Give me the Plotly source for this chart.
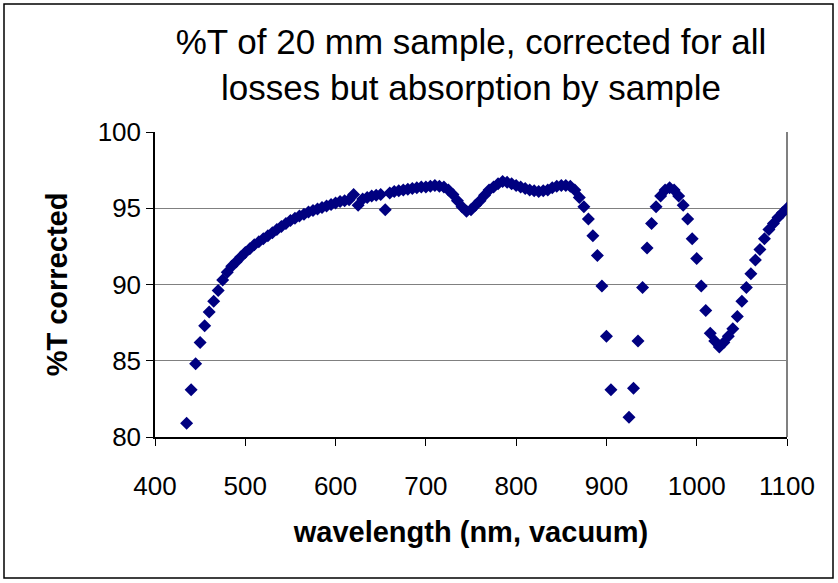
import plotly.graph_objects as go

wavelength_nm = [
    435, 440, 445, 450, 455, 460, 465, 470, 475, 480, 485, 490, 495, 500,
    505, 510, 515, 520, 525, 530, 535, 540, 545, 550, 555, 560, 565, 570,
    575, 580, 585, 590, 595, 600, 605, 610, 615, 620, 625, 630, 635, 640,
    645, 650, 655, 660, 665, 670, 675, 680, 685, 690, 695, 700, 705, 710,
    715, 720, 725, 730, 735, 740, 745, 750, 755, 760, 765, 770, 775, 780,
    785, 790, 795, 800, 805, 810, 815, 820, 825, 830, 835, 840, 845, 850,
    855, 860, 865, 870, 875, 880, 885, 890, 895, 900, 905, 925, 930, 935,
    940, 945, 950, 955, 960, 965, 970, 975, 980, 985, 990, 995, 1000, 1005,
    1010, 1015, 1020, 1025, 1030, 1035, 1040, 1045, 1050, 1055, 1060, 1065,
    1070, 1075, 1080, 1085, 1090, 1095, 1100,
]

pct_T_corrected = [
    80.9, 83.1, 84.8, 86.2, 87.3, 88.2, 88.9, 89.6, 90.3, 90.8, 91.2, 91.5, 91.8, 92.1,
    92.35, 92.6, 92.8, 93.0, 93.2, 93.4, 93.6, 93.8, 94.0, 94.2, 94.35, 94.5, 94.6, 94.75,
    94.85, 94.95, 95.05, 95.15, 95.25, 95.35, 95.45, 95.5, 95.55, 95.9, 95.2, 95.6, 95.7, 95.8,
    95.85, 95.9, 94.9, 96.0, 96.1, 96.15, 96.2, 96.25, 96.3, 96.35, 96.4, 96.4, 96.45, 96.5,
    96.45, 96.4, 96.2, 95.9, 95.5, 95.1, 94.8, 94.9, 95.2, 95.5, 95.85, 96.2, 96.4, 96.6,
    96.75, 96.7, 96.6, 96.5, 96.4, 96.3, 96.2, 96.15, 96.1, 96.15, 96.2, 96.35, 96.45, 96.5,
    96.5, 96.45, 96.2, 95.7, 95.1, 94.3, 93.2, 91.9, 89.9, 86.6, 83.1, 81.3, 83.2, 86.3,
    89.8, 92.4, 94.0, 95.1, 95.8, 96.2, 96.35, 96.2, 95.8, 95.2, 94.3, 93.0, 91.7, 89.9,
    88.3, 86.8, 86.3, 85.9, 86.2, 86.6, 87.1, 87.9, 88.9, 89.8, 90.7, 91.6,
    92.3, 93.0, 93.6, 94.0, 94.4, 94.7, 95.0,
]

x_tick_values = [400, 500, 600, 700, 800, 900, 1000, 1100]
y_tick_values = [80, 85, 90, 95, 100]

title_text = "%T of 20 mm sample, corrected for all<br>losses but absorption by sample"
x_title = "wavelength (nm, vacuum)"
y_title = "%T corrected"

W, H = 838, 583
ML, MR, MT, MB = 155, 51, 132, 146
PW, PH = W - ML - MR, H - MT - MB

def px_to_paper_x(px):
    return (px - ML) / PW

def px_to_paper_y(py):
    return (H - MB - py) / PH

fig = go.Figure()
fig.add_trace(go.Scatter(
    x=wavelength_nm, y=pct_T_corrected, mode="markers",
    marker=dict(symbol="diamond", size=10, color="#000080", line=dict(width=0)),
    showlegend=False, cliponaxis=True,
))

font_family = "Liberation Sans, Arial, sans-serif"

fig.update_layout(
    width=W, height=H,
    margin=dict(l=ML, r=MR, t=MT, b=MB, autoexpand=False),
    paper_bgcolor="white", plot_bgcolor="white",
    font=dict(family=font_family, color="black"),
    title=dict(text=title_text, x=0.5, xref="paper", xanchor="center",
               y=1 - 54 / H, yref="container", yanchor="top",
               font=dict(size=35, family=font_family, color="black")),
    xaxis=dict(range=[400, 1100], tickvals=x_tick_values, ticks="outside", ticklen=7,
               tickcolor="black", showline=True, linecolor="black", linewidth=1.5,
               showgrid=False, zeroline=False, tickfont=dict(size=26),
               ticklabelstandoff=18,
               title=dict(text="<b>" + x_title + "</b>", font=dict(size=29), standoff=22),
               automargin=False),
    yaxis=dict(range=[80, 100], tickvals=y_tick_values, ticks="outside", ticklen=7,
               tickcolor="black", showline=True, linecolor="black", linewidth=1.5,
               showgrid=True, gridcolor="#808080", gridwidth=1, zeroline=False,
               tickfont=dict(size=26),
               title=dict(text="<b>" + y_title + "</b>", font=dict(size=29), standoff=22),
               automargin=False),
    shapes=[
        dict(type="line", xref="paper", yref="paper", x0=1, x1=1, y0=0, y1=1,
             line=dict(color="#808080", width=2), layer="below"),
        dict(type="rect", xref="paper", yref="paper",
             x0=px_to_paper_x(4), x1=px_to_paper_x(833),
             y0=px_to_paper_y(578), y1=px_to_paper_y(4),
             line=dict(color="black", width=1.5), fillcolor="rgba(0,0,0,0)"),
    ],
)

fig.write_html("out.html", config={"displayModeBar": False},
               post_script="document.body.style.margin='0px';")
